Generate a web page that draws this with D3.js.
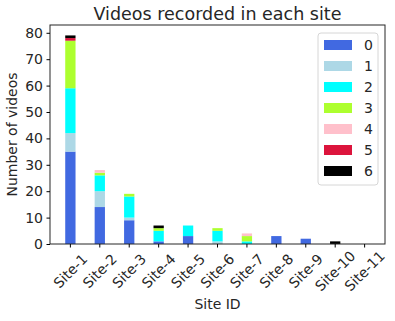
<!DOCTYPE html>
<html>
<head>
<meta charset="utf-8">
<script src="https://cdn.jsdelivr.net/npm/d3@7"></script>
<style>
  body { margin: 0; background: #fff; }
  text { font-family: "DejaVu Sans", sans-serif; fill: #262626; }
</style>
</head>
<body>
<div id="chart"></div>
<script>
// video counts per site, one array per label class
var sites = ["Site-1","Site-2","Site-3","Site-4","Site-5","Site-6","Site-7","Site-8","Site-9","Site-10","Site-11"];
var classNames = ["0","1","2","3","4","5","6"];
var classColors = ["royalblue","lightblue","cyan","greenyellow","pink","crimson","black"];

var class0 = [35,14,9,1,3,0,0,3,2,0,0];
var class1 = [7,6,1,0,0,1,0,0,0,0,0];
var class2 = [17,6,8,4,4,4,1,0,0,0,0];
var class3 = [18,1,1,1,0,1,2,0,0,0,0];
var class4 = [0,1,0,0,0,0,1,0,0,0,0];
var class5 = [1,0,0,0,0,0,0,0,0,0,0];
var class6 = [1,0,0,1,0,0,0,0,0,1,0];
var yTicks = [0,10,20,30,40,50,60,70,80];

var classValues = [class0,class1,class2,class3,class4,class5,class6];

var svgWidth = 395, svgHeight = 321;
var margin = {top: 25, right: 10, bottom: 77, left: 50},
    width = svgWidth - margin.left - margin.right,
    height = svgHeight - margin.top - margin.bottom;

// rows for d3.stack
var rows = sites.map(function(s, i) {
  var r = {site: s};
  classNames.forEach(function(c, k) { r[c] = classValues[k][i]; });
  return r;
});
var series = d3.stack().keys(classNames)(rows);
var maxTotal = d3.max(rows, function(r) { return d3.sum(classNames, function(c) { return r[c]; }); });

var x = d3.scaleBand()
    .domain(sites)
    .range([0, width])
    .paddingInner(0.65)
    .paddingOuter(0.5175);

var y = d3.scaleLinear()
    .domain([0, maxTotal * 1.05])
    .range([height, 0]);

var svg = d3.select("#chart").append("svg")
    .attr("width", svgWidth)
    .attr("height", svgHeight);

var plot = svg.append("g")
    .attr("transform", "translate(" + margin.left + "," + margin.top + ")");

plot.selectAll("g.layer")
  .data(series)
  .enter().append("g")
    .attr("class", "layer")
    .attr("fill", function(d, k) { return classColors[k]; })
  .selectAll("rect")
  .data(function(d) { return d; })
  .enter().append("rect")
    .attr("x", function(d) { return x(d.data.site); })
    .attr("width", x.bandwidth())
    .attr("y", function(d) { return y(d[1]); })
    .attr("height", function(d) { return y(d[0]) - y(d[1]); });

// frame
plot.append("rect")
    .attr("width", width)
    .attr("height", height)
    .attr("fill", "none")
    .attr("stroke", "#262626")
    .attr("stroke-width", 1);

var yAxis = plot.append("g")
    .call(d3.axisLeft(y).tickValues(yTicks).tickSize(3.5).tickPadding(3.5));
yAxis.select(".domain").remove();
yAxis.selectAll("text").style("font-size", "14px").attr("fill", "#262626");

var xAxis = plot.append("g")
    .attr("transform", "translate(0," + height + ")")
    .call(d3.axisBottom(x).tickSize(3.5).tickFormat(""));
xAxis.select(".domain").remove();

// rotated tick labels, centred under each tick like matplotlib rotation=45
var labelBox = 40;
xAxis.selectAll(".tick").append("text")
    .attr("transform", "translate(0," + (7 + labelBox / 2) + ") rotate(-45)")
    .attr("text-anchor", "middle")
    .attr("dy", "0.35em")
    .style("font-size", "14px")
    .attr("fill", "#262626")
    .text(function(d) { return d; });

svg.append("text")
    .attr("x", margin.left + width / 2)
    .attr("y", 20)
    .attr("text-anchor", "middle")
    .style("font-size", "17.5px")
    .text("Videos recorded in each site");

svg.append("text")
    .attr("x", margin.left + width / 2)
    .attr("y", 309)
    .attr("text-anchor", "middle")
    .style("font-size", "14px")
    .text("Site ID");

svg.append("text")
    .attr("transform", "translate(17," + (margin.top + height / 2) + ") rotate(-90)")
    .attr("text-anchor", "middle")
    .style("font-size", "14px")
    .text("Number of videos");

// legend
var legend = svg.append("g").attr("transform", "translate(318,33)");
legend.append("rect")
    .attr("width", 60)
    .attr("height", 152)
    .attr("rx", 3)
    .attr("fill", "#fff")
    .attr("stroke", "#d6d6d6");
var item = legend.selectAll("g.item")
  .data(classNames)
  .enter().append("g")
    .attr("class", "item")
    .attr("transform", function(d, k) { return "translate(0," + (12 + k * 21) + ")"; });
item.append("rect")
    .attr("x", 6)
    .attr("y", -5)
    .attr("width", 28)
    .attr("height", 10)
    .attr("fill", function(d, k) { return classColors[k]; });
item.append("text")
    .attr("x", 46)
    .attr("dy", "0.35em")
    .style("font-size", "14px")
    .text(function(d) { return d; });
</script>
</body>
</html>
